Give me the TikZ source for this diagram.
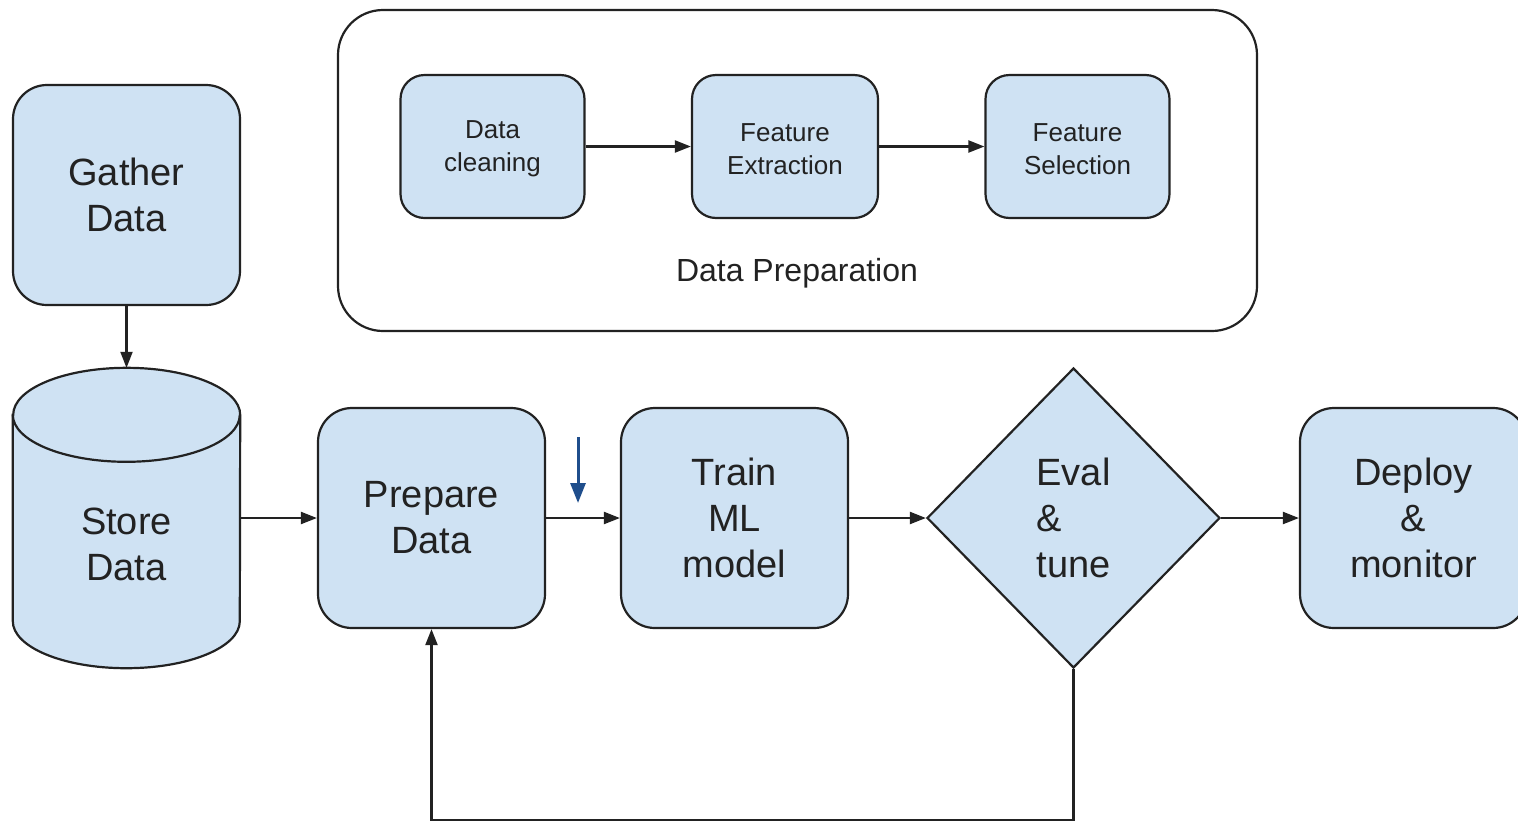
\documentclass[tikz,border=0pt]{standalone}
\usepackage{fontspec}
\setmainfont{Liberation Sans}
\usetikzlibrary{arrows.meta,shapes.geometric}

\definecolor{boxblue}{HTML}{CFE2F3}
\definecolor{ink}{HTML}{222222}
\definecolor{hintblue}{HTML}{1F4E8C}

\tikzset{
  stage/.style={draw=ink, fill=boxblue, line width=2.2pt, rounded corners=34pt,
    minimum width=227pt, minimum height=220pt, align=center, text=ink,
    font=\fontsize{38}{46}\selectfont},
  substage/.style={draw=ink, fill=boxblue, line width=2.2pt, rounded corners=24pt,
    minimum width=184pt, minimum height=143pt, align=center, text=ink,
    font=\fontsize{26}{33}\selectfont},
  flow/.style={draw=ink, line width=2.2pt, -{Triangle[length=16pt,width=12pt]}},
}

\begin{document}
\begin{tikzpicture}[x=1pt,y=-1pt]
    \useasboundingbox (0,0) rectangle (1518,823);

    % data preparation group
    \node (prep) [draw=ink, line width=2.2pt, rounded corners=45pt,
      minimum width=919pt, minimum height=321pt] at (797.5,170.5) {};
    \node (clean) [substage] at (492.5,146.5) {\strut Data\\cleaning};
    \node (extract) [substage, minimum width=186pt] at (785,146.5) {\strut Feature\\Extraction};
    \node (select) [substage] at (1077.5,146.5) {\strut Feature\\Selection};
    \node (preplabel) [text=ink, font=\fontsize{32}{38}\selectfont] at (797,273) {Data Preparation};
    \draw[flow] (clean) -- (extract);
    \draw[flow] (extract) -- (select);

    % main pipeline
    \node (gather) [stage] at (126.5,195) {Gather\\Data};
    \node (store) [minimum width=227pt, minimum height=300pt, inner sep=0pt] at (126.5,518) {};
    \draw[draw=ink, fill=boxblue, line width=2.2pt]
      ([yshift=-47pt]store.north west) -- ([yshift=47pt]store.south west)
      arc[start angle=180, end angle=360, x radius=113.5pt, y radius=47pt]
      -- ([yshift=-47pt]store.north east)
      arc[start angle=0, end angle=180, x radius=113.5pt, y radius=47pt] -- cycle;
    \draw[draw=ink, line width=2.2pt] ([yshift=-47pt]store.north west)
      arc[start angle=180, end angle=360, x radius=113.5pt, y radius=47pt];
    \node (storetext) [align=center, text=ink, font=\fontsize{38}{46}\selectfont] at (126.5,544) {Store\\Data};
    \node (prepare) [stage] at (431.5,518) {Prepare\\Data};
    \node (train) [stage] at (734.5,518) {Train\\ML\\model};
    \node (eval) [draw=ink, fill=boxblue, line width=2.2pt, diamond, minimum width=293pt,
      minimum height=300pt, align=left, text=ink, font=\fontsize{38}{46}\selectfont]
      at (1073.5,518) {Eval\\\&\\tune};
    \node (deploy) [stage] at (1413.5,518) {Deploy\\\&\\monitor};

    \draw[flow] (gather) -- (store);
    \draw[flow] (store) -- (prepare);
    \draw[flow] (prepare) -- (train);
    \draw[flow] (train) -- (eval);
    \draw[flow] (eval) -- (deploy);

    % loop back
    \coordinate (loopcorner) at (1073.5,820);
    \draw[flow] (eval.south) -- (loopcorner) -| (prepare.south);

    % blue marker
    \coordinate (hintstart) at (578,437);
    \coordinate (hintend) at (578,503);
    \draw[hintblue, line width=3pt, -{Triangle[length=20pt,width=15pt]}] (hintstart) -- (hintend);
\end{tikzpicture}
\end{document}
